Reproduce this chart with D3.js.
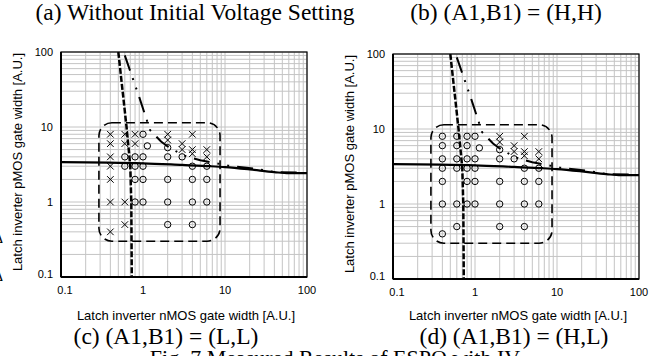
<!DOCTYPE html>
<html>
<head>
<meta charset="utf-8">
<script src="https://cdn.jsdelivr.net/npm/d3@7"></script>
<style>
  body { margin: 0; background: #fff; }
  text { fill: #000; }
</style>
</head>
<body>
<svg id="chart" width="661" height="356"></svg>
<script>
// axis ticks (both axes are log, 0.1 .. 100)
const tickValues = [0.1, 1, 10, 100];
const tickLabels = ["0.1", "1", "10", "100"];

// measured points, panel (a)/(c)
const crossA = [[0.4, 8], [0.4, 6], [0.4, 4], [0.4, 3], [0.4, 2], [0.4, 1], [0.4, 0.4],
  [0.6, 8], [0.6, 6], [0.6, 1], [0.6, 0.5], [0.8, 8], [0.8, 6],
  [2, 8], [2, 6.7], [3, 6], [3, 5], [4, 8], [4, 5], [4, 4.4], [6, 5], [6, 4]];
const circleA = [[0.6, 4], [0.6, 3], [0.8, 4], [0.8, 3], [0.8, 2], [0.8, 1],
  [1, 8], [1, 4], [1, 3], [1, 2], [1, 1], [1.13, 5.6],
  [2, 5.3], [2, 4], [2, 2], [2, 1], [2, 0.5], [3, 4],
  [4, 3], [4, 2], [4, 1], [4, 0.5], [6, 3], [6, 2], [6, 1]];

// measured points, panel (b)/(d)
const crossB = [[2, 8], [2, 6.7], [3, 6], [3, 5], [4, 8], [4, 5], [4, 4.4], [6, 5], [6, 4]];
const circleB = [[0.4, 8], [0.4, 6], [0.4, 4], [0.4, 3], [0.4, 2], [0.4, 1], [0.4, 0.4],
  [0.6, 8], [0.6, 6], [0.6, 4], [0.6, 3], [0.6, 1], [0.6, 0.5],
  [0.8, 8], [0.8, 6], [0.8, 4], [0.8, 3], [0.8, 2], [0.8, 1],
  [1, 8], [1, 4], [1, 3], [1, 2], [1, 1], [1.13, 5.6],
  [2, 5.3], [2, 4], [2, 2], [2, 1], [2, 0.5], [3, 4],
  [4, 3], [4, 2], [4, 1], [4, 0.5], [6, 3], [6, 2], [6, 1]];

// boundary curves (same in both panels)
const solidCurve = [[0.1, 3.4], [1, 3.28], [3, 3.12], [6.7, 3.0], [10, 2.92], [20, 2.72], [40, 2.5], [60, 2.42], [100, 2.42]];
const dashCurve = [[0.5, 100], [0.63, 10], [0.7, 3], [0.72, 1], [0.73, 0.1]];
const dashDotCurve = [[0.6, 90], [0.9, 25], [1.22, 9.1], [1.66, 6.4], [2, 5.5], [3.07, 4.2], [5, 3.6], [6.9, 3.38],
  [10.9, 3.05], [25, 2.75], [41, 2.49], [75, 2.47]];

// measured region (rounded box)
const regionX = [0.29, 8.7];
const regionY = [0.3, 11.4];

const topTitles = ["(a) Without Initial Voltage Setting", "(b) (A1,B1) = (H,H)"];
const bottomTitles = ["(c) (A1,B1) = (L,L)", "(d) (A1,B1) = (H,L)"];
const xTitle = "Latch inverter nMOS gate width [A.U.]";
const yTitle = "Latch inverter pMOS gate width [A.U.]";

const svg = d3.select("#chart");
const W = 246, H = 225;
const sans = "'Liberation Sans', Arial, sans-serif";
const serif = "'Liberation Serif', 'Times New Roman', serif";

const panels = [
  { left: 61, top: 52, crosses: crossA, circles: circleA, yTitleX: 18, topX: 195, subX: 166 },
  { left: 393, top: 54, crosses: crossB, circles: circleB, yTitleX: 350, topX: 506, subX: 514 }
];

// grid values 0.1..100 on 1-9 steps
const gridVals = [];
[0.1, 1, 10].forEach(d => { for (let k = 1; k <= 9; k++) gridVals.push(+(k * d).toPrecision(3)); });
gridVals.push(100);

panels.forEach((p, i) => {
  const x = d3.scaleLog().domain([0.1, 100]).range([0, W]);
  const y = d3.scaleLog().domain([0.1, 100]).range([H, 0]);
  const g = svg.append("g").attr("transform", `translate(${p.left},${p.top})`);

  g.append("clipPath").attr("id", "clip" + i)
    .append("rect").attr("width", W).attr("height", H);

  // grid
  g.append("g").selectAll("line.gx").data(gridVals).enter().append("line")
    .attr("x1", d => x(d)).attr("x2", d => x(d)).attr("y1", 0).attr("y2", H)
    .attr("stroke", "#c4c4c4").attr("stroke-width", 1);
  g.append("g").selectAll("line.gy").data(gridVals).enter().append("line")
    .attr("y1", d => y(d)).attr("y2", d => y(d)).attr("x1", 0).attr("x2", W)
    .attr("stroke", "#c4c4c4").attr("stroke-width", 1);

  const plot = g.append("g").attr("clip-path", `url(#clip${i})`);
  const line = d3.line().x(d => x(d[0])).y(d => y(d[1])).curve(d3.curveMonotoneX);
  const lineV = d3.line().x(d => x(d[0])).y(d => y(d[1]));

  // region box
  plot.append("rect")
    .attr("x", x(regionX[0])).attr("y", y(regionY[1]))
    .attr("width", x(regionX[1]) - x(regionX[0]))
    .attr("height", y(regionY[0]) - y(regionY[1]))
    .attr("rx", 13).attr("ry", 13)
    .attr("fill", "none").attr("stroke", "#000").attr("stroke-width", 1.6)
    .attr("stroke-dasharray", "9,5");

  plot.append("path").datum(solidCurve).attr("d", line)
    .attr("fill", "none").attr("stroke", "#000").attr("stroke-width", 2.2);
  plot.append("path").datum(dashCurve).attr("d", lineV)
    .attr("fill", "none").attr("stroke", "#000").attr("stroke-width", 2.5)
    .attr("stroke-dasharray", "6,2");
  plot.append("path").datum(dashDotCurve).attr("d", lineV)
    .attr("fill", "none").attr("stroke", "#000").attr("stroke-width", 2)
    .attr("stroke-dasharray", "16,8,2,8,2,8");

  // markers
  plot.selectAll("circle.m").data(p.circles).enter().append("circle")
    .attr("cx", d => x(d[0])).attr("cy", d => y(d[1])).attr("r", 3.2)
    .attr("fill", "none").attr("stroke", "#000").attr("stroke-width", 1);
  const s = 3.3;
  plot.selectAll("path.x").data(p.crosses).enter().append("path")
    .attr("d", d => {
      const cx = x(d[0]), cy = y(d[1]);
      return `M${cx - s},${cy - s}L${cx + s},${cy + s}M${cx - s},${cy + s}L${cx + s},${cy - s}`;
    })
    .attr("stroke", "#000").attr("stroke-width", 1);

  // frame
  g.append("rect").attr("width", W).attr("height", H)
    .attr("fill", "none").attr("stroke", "#000").attr("stroke-width", 1.2);
  g.append("line").attr("x1", 0).attr("x2", 0).attr("y1", 0).attr("y2", H)
    .attr("stroke", "#000").attr("stroke-width", 2);
  g.append("line").attr("x1", 0).attr("x2", W).attr("y1", H).attr("y2", H)
    .attr("stroke", "#000").attr("stroke-width", 2);

  // tick labels
  g.selectAll("text.xt").data(tickValues).enter().append("text")
    .attr("x", d => x(d) + (d === 0.1 ? 4 : 0)).attr("y", H + 17)
    .attr("text-anchor", "middle").attr("font-family", sans).attr("font-size", 11)
    .text((d, j) => tickLabels[j]);
  g.selectAll("text.yt").data(tickValues).enter().append("text")
    .attr("x", -8).attr("y", d => y(d) + 4 - (d === 0.1 ? 3 : 0))
    .attr("text-anchor", "end").attr("font-family", sans).attr("font-size", 11)
    .text((d, j) => tickLabels[j]);

  // axis titles
  svg.append("text").attr("x", p.left + W / 2 + 2).attr("y", 320)
    .attr("text-anchor", "middle").attr("font-family", sans).attr("font-size", 13)
    .text(xTitle);
  svg.append("text")
    .attr("transform", `translate(${p.yTitleX + 4},${p.top + 110}) rotate(-90)`)
    .attr("text-anchor", "middle").attr("font-family", sans).attr("font-size", 13)
    .text(yTitle);

  // panel titles
  svg.append("text").attr("x", p.topX).attr("y", 20)
    .attr("text-anchor", "middle").attr("font-family", serif).attr("font-size", 23.5)
    .text(topTitles[i]);
  svg.append("text").attr("x", p.subX).attr("y", 344)
    .attr("text-anchor", "middle").attr("font-family", serif).attr("font-size", 23.5)
    .text(bottomTitles[i]);
});

// cut-off caption and page marks
svg.append("text").attr("x", 335).attr("y", 365)
  .attr("text-anchor", "middle").attr("font-family", serif).attr("font-size", 22)
  .text("Fig. 7 Measured Results of ESPO with IV");
svg.append("text").attr("x", -6).attr("y", 243).attr("font-family", serif).attr("font-size", 14).text("Δ");
svg.append("text").attr("x", -6).attr("y", 281).attr("font-family", serif).attr("font-size", 14).text("Δ");
</script>
</body>
</html>
